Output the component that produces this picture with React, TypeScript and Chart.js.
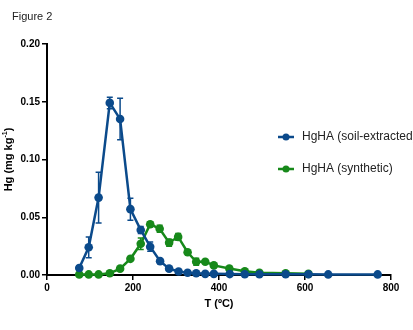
import React, { useEffect, useRef } from "react";
import { Chart, registerables } from "chart.js";

Chart.register(...registerables);

// Temperature steps (ºC) and Hg release (mg kg-1) with error half-widths
const soilT = [75, 97, 120, 146, 170, 194, 218, 240, 263, 284, 306, 327, 347, 368, 388, 425, 460, 494, 555, 608, 654, 769];
const soilHg = [0.006, 0.024, 0.067, 0.149, 0.135, 0.057, 0.039, 0.0245, 0.012, 0.0055, 0.003, 0.002, 0.0015, 0.001, 0.001, 0.0008, 0.0007, 0.0006, 0.0006, 0.0006, 0.0005, 0.0005];
const soilErr = [0.002, 0.009, 0.022, 0.005, 0.018, 0.0095, 0.003, 0.004, 0.002, 0.001, 0, 0, 0, 0, 0, 0, 0, 0, 0, 0, 0, 0];

const synT = [75, 97, 120, 146, 170, 194, 218, 240, 262, 284, 305, 327, 347, 368, 388, 424, 460, 494, 555, 608];
const synHg = [0.0005, 0.0005, 0.0005, 0.0015, 0.0055, 0.014, 0.027, 0.044, 0.040, 0.028, 0.033, 0.0197, 0.0115, 0.0115, 0.0083, 0.0056, 0.0032, 0.002, 0.0015, 0.001];
const synErr = [0, 0, 0, 0, 0, 0.001, 0.005, 0.002, 0.003, 0.003, 0.003, 0.001, 0.003, 0.001, 0.001, 0, 0, 0, 0, 0];

const seriesNames = ["HgHA (soil-extracted)", "HgHA (synthetic)"];
const seriesColors = ["#0b4a8b", "#17891a"];
const errors = [soilErr, synErr];

const xTicks = [0, 200, 400, 600, 800];
const yTicks = [0, 0.05, 0.1, 0.15, 0.2];

const FONT = "'Liberation Sans', Arial, sans-serif";

const decorations = {
  id: "decorations",
  beforeDatasetsDraw(chart: any) {
    const ctx = chart.ctx;
    const xs = chart.scales.x;
    const ys = chart.scales.y;
    ctx.save();
    chart.data.datasets.forEach((ds: any, i: number) => {
      const err = errors[i];
      ctx.strokeStyle = seriesColors[i];
      ctx.lineWidth = 1.5;
      ds.data.forEach((p: any, j: number) => {
        const e = err[j];
        if (!e) return;
        const x = xs.getPixelForValue(p.x);
        const y1 = ys.getPixelForValue(p.y + e);
        const y2 = ys.getPixelForValue(p.y - e);
        ctx.beginPath();
        ctx.moveTo(x, y1);
        ctx.lineTo(x, y2);
        ctx.moveTo(x - 3, y1);
        ctx.lineTo(x + 3, y1);
        ctx.moveTo(x - 3, y2);
        ctx.lineTo(x + 3, y2);
        ctx.stroke();
      });
    });
    ctx.restore();
  },
  afterDraw(chart: any) {
    const ctx = chart.ctx;
    const area = chart.chartArea;
    ctx.save();
    ctx.fillStyle = "#222";
    ctx.textBaseline = "middle";

    // Figure label
    ctx.font = `11px ${FONT}`;
    ctx.textAlign = "left";
    ctx.fillText("Figure 2", 12, 17);

    // X axis title
    ctx.fillStyle = "#000";
    ctx.font = `bold 11px ${FONT}`;
    ctx.textAlign = "center";
    ctx.fillText("T (ºC)", (area.left + area.right) / 2, 304);

    // Y axis title with superscript
    ctx.save();
    ctx.translate(9, (area.top + area.bottom) / 2);
    ctx.rotate(-Math.PI / 2);
    const main = "Hg (mg kg";
    const sup = "-1";
    const end = ")";
    ctx.font = `bold 11px ${FONT}`;
    const wMain = ctx.measureText(main).width;
    const wEnd = ctx.measureText(end).width;
    ctx.font = `bold 7px ${FONT}`;
    const wSup = ctx.measureText(sup).width;
    const total = wMain + wSup + wEnd;
    let x0 = -total / 2;
    ctx.textAlign = "left";
    ctx.font = `bold 11px ${FONT}`;
    ctx.fillText(main, x0, 0);
    ctx.font = `bold 7px ${FONT}`;
    ctx.fillText(sup, x0 + wMain, -4);
    ctx.font = `bold 11px ${FONT}`;
    ctx.fillText(end, x0 + wMain + wSup, 0);
    ctx.restore();

    // Legend
    const rows = [137, 169];
    rows.forEach((ry, i) => {
      ctx.strokeStyle = seriesColors[i];
      ctx.lineWidth = 2.5;
      ctx.beginPath();
      ctx.moveTo(278, ry);
      ctx.lineTo(294, ry);
      ctx.stroke();
      ctx.fillStyle = seriesColors[i];
      ctx.beginPath();
      ctx.arc(286, ry, 3.5, 0, Math.PI * 2);
      ctx.fill();
      ctx.fillStyle = "#222";
      ctx.font = `12px ${FONT}`;
      ctx.textAlign = "left";
      ctx.fillText(seriesNames[i], 302, ry);
    });
    ctx.restore();
  },
};

export default function App() {
  const ref = useRef<HTMLCanvasElement>(null);

  useEffect(() => {
    if (!ref.current) return;
    const mk = (xs: number[], ys: number[]) => xs.map((x, i) => ({ x, y: ys[i] }));
    const chart = new Chart(ref.current, {
      type: "scatter",
      data: {
        datasets: [
          {
            label: seriesNames[0],
            data: mk(soilT, soilHg),
            showLine: true,
            borderColor: seriesColors[0],
            backgroundColor: seriesColors[0],
            borderWidth: 2.5,
            pointRadius: 4.3,
            pointBorderWidth: 0,
            clip: false,
          },
          {
            label: seriesNames[1],
            data: mk(synT, synHg),
            showLine: true,
            borderColor: seriesColors[1],
            backgroundColor: seriesColors[1],
            borderWidth: 2.5,
            pointRadius: 4.3,
            pointBorderWidth: 0,
            clip: false,
          },
        ],
      },
      options: {
        responsive: false,
        animation: false,
        devicePixelRatio: 1,
        layout: { padding: { top: 44, right: 22, left: 0, bottom: 0 } },
        plugins: {
          legend: { display: false },
          tooltip: { enabled: false },
          title: { display: false },
        },
        scales: {
          x: {
            type: "linear",
            min: 0,
            max: 800,
            afterFit: (s: any) => {
              s.height = 55;
            },
            afterBuildTicks: (s: any) => {
              s.ticks = xTicks.map((v) => ({ value: v }));
            },
            border: { color: "#000", width: 2 },
            grid: { drawOnChartArea: false, drawTicks: true, tickLength: 5, color: "#000", lineWidth: 1.5 },
            ticks: {
              color: "#000",
              padding: 2,
              font: { family: FONT, size: 10, weight: "bold" },
              maxRotation: 0,
            },
          },
          y: {
            type: "linear",
            min: 0,
            max: 0.2,
            afterFit: (s: any) => {
              s.width = 47;
            },
            afterBuildTicks: (s: any) => {
              s.ticks = yTicks.map((v) => ({ value: v }));
            },
            border: { color: "#000", width: 2 },
            grid: { drawOnChartArea: false, drawTicks: true, tickLength: 5, color: "#000", lineWidth: 1.5 },
            ticks: {
              color: "#000",
              padding: 2,
              font: { family: FONT, size: 10, weight: "bold" },
              callback: (v: any) => Number(v).toFixed(2),
            },
          },
        },
      },
      plugins: [decorations],
    });
    return () => chart.destroy();
  }, []);

  return (
    <div style={{ position: "fixed", left: 0, top: 0, width: 413, height: 330, background: "#fff" }}>
      <canvas ref={ref} width={413} height={330} />
    </div>
  );
}
